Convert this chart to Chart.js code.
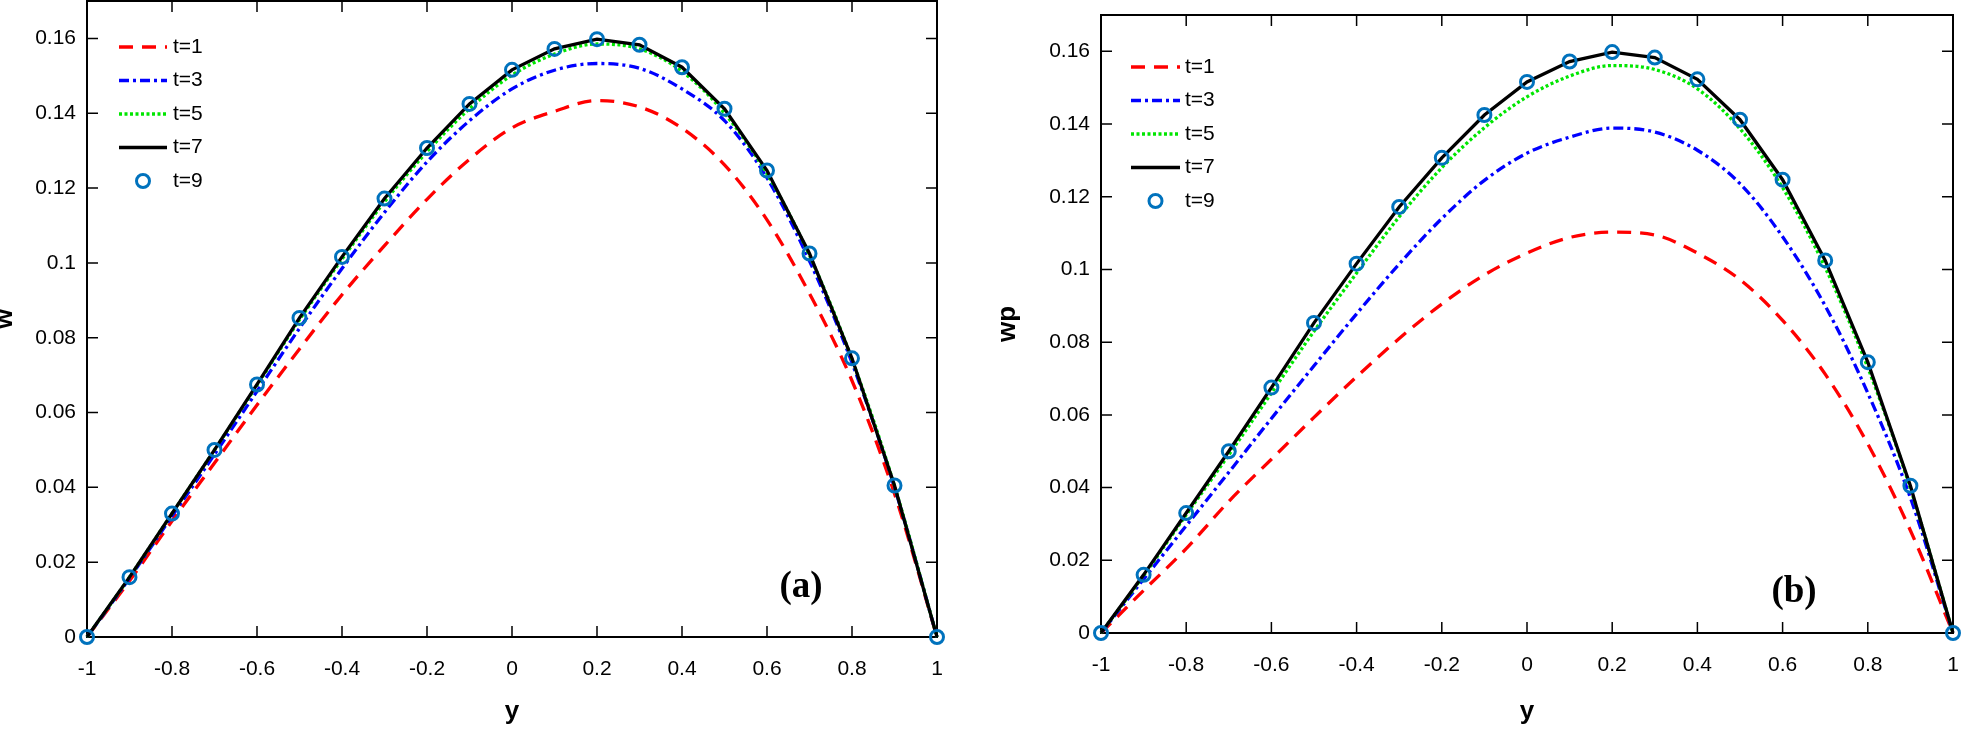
<!DOCTYPE html>
<html>
<head>
<meta charset="utf-8">
<script src="https://cdn.jsdelivr.net/npm/chart.js@4.4.1/dist/chart.umd.min.js"></script>
<style>
  html, body { margin: 0; padding: 0; background: #fff; }
  body { width: 1962px; height: 732px; position: relative; overflow: hidden; }
  canvas { position: absolute; top: 0; }
  #chartA { left: -8px; }
  #chartB { left: 995px; }
</style>
</head>
<body>
<canvas id="chartA" width="998" height="732"></canvas>
<canvas id="chartB" width="967" height="732"></canvas>
<script>
/* =========================
   DATA
========================= */
const yPos = [-1, -0.9, -0.8, -0.7, -0.6, -0.5, -0.4, -0.3, -0.2, -0.1, 0,
              0.1, 0.2, 0.3, 0.4, 0.5, 0.6, 0.7, 0.8, 0.9, 1];

const seriesLabels = ['t=1', 't=3', 't=5', 't=7', 't=9'];

const xTickVals = [-1, -0.8, -0.6, -0.4, -0.2, 0, 0.2, 0.4, 0.6, 0.8, 1];
const yTickVals = [0, 0.02, 0.04, 0.06, 0.08, 0.1, 0.12, 0.14, 0.16];

// panel (a): w
const wT1 = [0, 0.0150, 0.0310, 0.0465, 0.0620, 0.0770, 0.0915, 0.1046, 0.1170, 0.1277, 0.1361,
             0.1405, 0.1434, 0.1417, 0.1360, 0.1262, 0.1115, 0.0918, 0.0685, 0.0383, 0];
const wT3 = [0, 0.0157, 0.0323, 0.0488, 0.0657, 0.0825, 0.0985, 0.1135, 0.1270, 0.1380, 0.1465,
             0.1515, 0.1533, 0.1520, 0.1465, 0.1380, 0.1227, 0.1005, 0.0733, 0.0400, 0];
const wT5 = [0, 0.0160, 0.0330, 0.0500, 0.0673, 0.0848, 0.1010, 0.1163, 0.1297, 0.1412, 0.1502,
             0.1558, 0.1585, 0.1572, 0.1512, 0.1400, 0.1238, 0.1020, 0.0742, 0.0404, 0];
const wT7 = [0, 0.0160, 0.0330, 0.0500, 0.0675, 0.0853, 0.1016, 0.1172, 0.1307, 0.1425, 0.1516,
             0.1572, 0.1598, 0.1583, 0.1523, 0.1412, 0.1247, 0.1025, 0.0745, 0.0405, 0];
const wT9 = [0, 0.0160, 0.0330, 0.0500, 0.0675, 0.0853, 0.1016, 0.1172, 0.1307, 0.1425, 0.1516,
             0.1572, 0.1598, 0.1583, 0.1523, 0.1412, 0.1247, 0.1025, 0.0745, 0.0405, 0];

// panel (b): wp
const wpT1 = [0, 0.0117, 0.0232, 0.0362, 0.0478, 0.0593, 0.0705, 0.0810, 0.0905, 0.0985, 0.1045,
              0.1088, 0.1103, 0.1095, 0.1045, 0.0972, 0.0860, 0.0712, 0.0520, 0.0282, 0];
const wpT3 = [0, 0.0148, 0.0295, 0.0442, 0.0590, 0.0735, 0.0878, 0.1015, 0.1140, 0.1245, 0.1320,
              0.1364, 0.1389, 0.1378, 0.1328, 0.1236, 0.1090, 0.0900, 0.0660, 0.0372, 0];
const wpT5 = [0, 0.0158, 0.0325, 0.0490, 0.0660, 0.0830, 0.0990, 0.1145, 0.1280, 0.1390, 0.1475,
              0.1532, 0.1561, 0.1550, 0.1497, 0.1387, 0.1225, 0.1005, 0.0730, 0.0398, 0];
const wpT7 = [0, 0.0160, 0.0330, 0.0500, 0.0675, 0.0853, 0.1016, 0.1172, 0.1307, 0.1425, 0.1516,
              0.1572, 0.1598, 0.1583, 0.1523, 0.1412, 0.1247, 0.1025, 0.0745, 0.0405, 0];
const wpT9 = [0, 0.0160, 0.0330, 0.0500, 0.0675, 0.0853, 0.1016, 0.1172, 0.1307, 0.1425, 0.1516,
              0.1572, 0.1598, 0.1583, 0.1523, 0.1412, 0.1247, 0.1025, 0.0745, 0.0405, 0];

/* =========================
   STYLES
========================= */
const FONT = '"Liberation Sans", Arial, sans-serif';
const TICK_LEN = 11;
const LINE_W = 3.3;
const styles = [
    { borderColor: '#ff0000', borderDash: [14, 9], order: 5 },
    { borderColor: '#0000ff', borderDash: [10, 4, 3, 4], order: 4 },
    { borderColor: '#00e600', borderDash: [3, 2.5], order: 3 },
    { borderColor: '#000000', borderDash: [], order: 2 },
    { borderColor: '#0072BD', showLine: false, order: 1 }
];

const toXY = vals => yPos.map((p, i) => ({ x: p, y: vals[i] }));

function makeDatasets(series) {
    return series.map((vals, i) => {
        const s = styles[i];
        const ds = {
            label: seriesLabels[i],
            data: toXY(vals),
            borderColor: s.borderColor,
            borderWidth: LINE_W,
            borderDash: s.borderDash || [],
            order: s.order,
            clip: false,
            pointRadius: 0,
            tension: 0
        };
        if (s.showLine === false) {
            ds.showLine = false;
            ds.pointRadius = 6.5;
            ds.pointBorderWidth = 3;
            ds.pointBorderColor = s.borderColor;
            ds.pointBackgroundColor = 'rgba(0,0,0,0)';
        } else if (i < 3) {
            ds.cubicInterpolationMode = 'monotone';
        }
        return ds;
    });
}

/* =========================
   FRAME, INWARD TICKS, LEGEND
========================= */
function decorPlugin(cfg) {
    return {
        id: 'decor',
        beforeDatasetsDraw(chart) {
            const { ctx, chartArea: a, scales: { x, y } } = chart;
            ctx.save();
            ctx.strokeStyle = '#000';
            ctx.lineWidth = 1.5;
            ctx.beginPath();
            x.ticks.forEach(t => {
                const px = x.getPixelForValue(t.value);
                ctx.moveTo(px, a.bottom); ctx.lineTo(px, a.bottom - TICK_LEN);
                ctx.moveTo(px, a.top); ctx.lineTo(px, a.top + TICK_LEN);
            });
            y.ticks.forEach(t => {
                const py = y.getPixelForValue(t.value);
                ctx.moveTo(a.left, py); ctx.lineTo(a.left + TICK_LEN, py);
                ctx.moveTo(a.right, py); ctx.lineTo(a.right - TICK_LEN, py);
            });
            ctx.stroke();
            ctx.lineWidth = 2;
            ctx.strokeRect(a.left, a.top, a.width, a.height);
            ctx.restore();
        },
        afterDatasetsDraw(chart) {
            const { ctx } = chart;
            ctx.save();
            chart.data.datasets.forEach((ds, i) => {
                const ly = cfg.legendY + i * 33.5;
                if (ds.showLine === false) {
                    ctx.setLineDash([]);
                    ctx.beginPath();
                    ctx.arc((cfg.legendX0 + cfg.legendX1) / 2, ly, 6.5, 0, Math.PI * 2);
                    ctx.lineWidth = 3;
                    ctx.strokeStyle = ds.pointBorderColor;
                    ctx.stroke();
                } else {
                    ctx.setLineDash(ds.borderDash);
                    ctx.lineWidth = LINE_W;
                    ctx.strokeStyle = ds.borderColor;
                    ctx.beginPath();
                    ctx.moveTo(cfg.legendX0, ly);
                    ctx.lineTo(cfg.legendX1, ly);
                    ctx.stroke();
                }
                ctx.setLineDash([]);
                ctx.fillStyle = '#000';
                ctx.font = '21px ' + FONT;
                ctx.textAlign = 'left';
                ctx.textBaseline = 'middle';
                ctx.fillText(ds.label, cfg.legendText, ly);
            });

            ctx.font = 'bold 37px "Liberation Serif", "Times New Roman", serif';
            ctx.textAlign = 'center';
            ctx.textBaseline = 'middle';
            ctx.fillStyle = '#000';
            ctx.fillText(cfg.tag, cfg.tagX, cfg.tagY);
            ctx.restore();
        }
    };
}

/* =========================
   CHARTS
========================= */
const fmt = v => String(Number(Number(v).toFixed(2)));

function buildChart(id, series, yTitle, cfg) {
    return new Chart(document.getElementById(id), {
        type: 'line',
        data: { datasets: makeDatasets(series) },
        options: {
            responsive: false,
            animation: false,
            layout: {
                autoPadding: false,
                padding: { left: 0, right: cfg.padRight, top: cfg.padTop, bottom: 0 }
            },
            plugins: { legend: { display: false }, tooltip: { enabled: false } },
            scales: {
                x: {
                    type: 'linear',
                    min: -1,
                    max: 1,
                    afterBuildTicks: s => { s.ticks = xTickVals.map(v => ({ value: v })); },
                    afterFit: s => {
                        s.height = cfg.xAxisH;
                        s.paddingLeft = 0; s.paddingRight = 0;
                    },
                    grid: { display: false, drawTicks: false },
                    border: { display: false },
                    ticks: {
                        color: '#000', font: { family: FONT, size: 21 },
                        padding: 20, maxRotation: 0, autoSkip: false, callback: fmt
                    },
                    title: {
                        display: true, text: 'y', color: '#000',
                        font: { family: FONT, size: 26, weight: 'bold', lineHeight: 1 },
                        padding: { top: 0, bottom: 7 }
                    }
                },
                y: {
                    type: 'linear',
                    min: 0,
                    max: 0.17,
                    afterBuildTicks: s => { s.ticks = yTickVals.map(v => ({ value: v })); },
                    afterFit: s => {
                        s.width = cfg.yAxisW;
                        s.paddingTop = 0; s.paddingBottom = 0;
                    },
                    grid: { display: false, drawTicks: false },
                    border: { display: false },
                    ticks: {
                        color: '#000', font: { family: FONT, size: 21 },
                        padding: 11, autoSkip: false, callback: fmt
                    },
                    title: {
                        display: true, text: yTitle, color: '#000',
                        font: { family: FONT, size: 26, weight: 'bold', lineHeight: 1 },
                        padding: 0
                    }
                }
            }
        },
        plugins: [decorPlugin(cfg)]
    });
}

buildChart('chartA', [wT1, wT3, wT5, wT7, wT9], 'w', {
    padRight: 53, padTop: 1, xAxisH: 95, yAxisW: 95,
    legendY: 47, legendX0: 127, legendX1: 175, legendText: 181,
    tag: '(a)', tagX: 809, tagY: 587
});

buildChart('chartB', [wpT1, wpT3, wpT5, wpT7, wpT9], 'wp', {
    padRight: 9, padTop: 15, xAxisH: 99, yAxisW: 106,
    legendY: 67, legendX0: 136, legendX1: 185, legendText: 190,
    tag: '(b)', tagX: 799, tagY: 592
});
</script>
</body>
</html>
